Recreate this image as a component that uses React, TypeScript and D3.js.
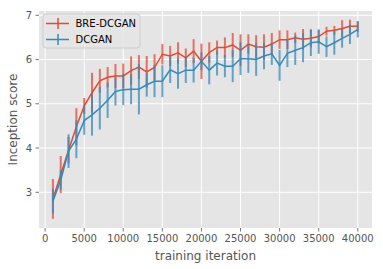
import * as d3 from "d3";

// training iteration (x), thousands
const iterations = d3.range(1, 41).map((k) => k * 1000);

const breMean = [2.85, 3.4, 3.95, 4.48, 4.95, 5.25, 5.52, 5.6, 5.63, 5.63,
  5.75, 5.83, 5.72, 5.82, 6.12, 6.08, 6.15, 6.04, 6.19, 5.96,
  6.16, 6.27, 6.27, 6.33, 6.21, 6.35, 6.29, 6.28, 6.35, 6.45,
  6.45, 6.49, 6.46, 6.48, 6.52, 6.64, 6.66, 6.7, 6.75, 6.75];
const breErr = [0.45, 0.42, 0.3, 0.42, 0.18, 0.45, 0.27, 0.23, 0.27, 0.28,
  0.32, 0.27, 0.36, 0.3, 0.23, 0.23, 0.24, 0.21, 0.27, 0.4,
  0.23, 0.16, 0.23, 0.27, 0.36, 0.22, 0.26, 0.29, 0.25, 0.21,
  0.21, 0.12, 0.23, 0.2, 0.16, 0.1, 0.1, 0.19, 0.15, 0.12];

const dcMean = [2.8, 3.28, 3.93, 4.2, 4.62, 4.75, 4.9, 5.08, 5.28, 5.32,
  5.33, 5.33, 5.43, 5.51, 5.51, 5.77, 5.68, 5.76, 5.76, 5.96,
  5.76, 5.92, 5.85, 5.85, 6.02, 6.02, 6.0, 6.08, 6.13, 5.87,
  6.14, 6.21, 6.27, 6.38, 6.4, 6.29, 6.38, 6.48, 6.57, 6.68];
const dcErr = [0.28, 0.22, 0.38, 0.43, 0.32, 0.47, 0.48, 0.4, 0.32, 0.35,
  0.34, 0.57, 0.27, 0.36, 0.36, 0.3, 0.34, 0.29, 0.28, 0.2,
  0.32, 0.28, 0.25, 0.36, 0.37, 0.32, 0.37, 0.3, 0.25, 0.35,
  0.31, 0.33, 0.33, 0.3, 0.27, 0.23, 0.27, 0.21, 0.22, 0.18];

const xTicks = [0, 5000, 10000, 15000, 20000, 25000, 30000, 35000, 40000];
const yTicks = [3, 4, 5, 6, 7];

const series = [
  { name: "BRE-DCGAN", mean: breMean, err: breErr, color: "#E24A33" },
  { name: "DCGAN", mean: dcMean, err: dcErr, color: "#348ABD" },
];

export default function App() {
  const width = 383;
  const height = 269;
  const left = 39;
  const right = 372;
  const top = 11;
  const bottom = 228;

  const x = d3.scaleLinear().domain([-780, 41820]).range([left, right]);
  const y = d3.scaleLinear().domain([2.193, 7.097]).range([bottom, top]);

  const line = d3.line<number>()
    .x((_, i) => x(iterations[i]))
    .y((d) => y(d));

  const font = "DejaVu Sans, sans-serif";

  return (
    <svg width={width} height={height} style={{ position: "absolute", left: 0, top: 0 }} fontFamily={font}>
      <rect x={0} y={0} width={width} height={height} fill="#fff" />
      <rect x={left} y={top} width={right - left} height={bottom - top} fill="#E5E5E5" />
      {/* grid */}
      {xTicks.map((t) => (
        <line key={"gx" + t} x1={x(t)} x2={x(t)} y1={top} y2={bottom} stroke="#fff" strokeWidth={1} />
      ))}
      {yTicks.map((t) => (
        <line key={"gy" + t} x1={left} x2={right} y1={y(t)} y2={y(t)} stroke="#fff" strokeWidth={1} />
      ))}

      {series.map((s) => (
        <g key={s.name}>
          <g stroke={s.color} strokeOpacity={0.75} strokeWidth={2}>
            {s.mean.map((m, i) => (
              <line key={i} x1={x(iterations[i])} x2={x(iterations[i])}
                y1={y(m - s.err[i])} y2={y(m + s.err[i])} />
            ))}
          </g>
          <path d={line(s.mean) ?? ""} fill="none" stroke={s.color} strokeWidth={1.5} />
        </g>
      ))}

      {/* ticks and tick labels */}
      {xTicks.map((t) => (
        <g key={"tx" + t}>
          <line x1={x(t)} x2={x(t)} y1={bottom} y2={bottom + 3.5} stroke="#555" strokeWidth={0.8} />
          <text x={x(t)} y={242} textAnchor="middle" fontSize={10} fill="#555">{t}</text>
        </g>
      ))}
      {yTicks.map((t) => (
        <g key={"ty" + t}>
          <line x1={left - 3.5} x2={left} y1={y(t)} y2={y(t)} stroke="#555" strokeWidth={0.8} />
          <text x={32} y={y(t) + 3.6} textAnchor="end" fontSize={10} fill="#555">{t}</text>
        </g>
      ))}

      <text x={(left + right) / 2} y={260} textAnchor="middle" fontSize={12} fill="#555">training iteration</text>
      <text transform={`translate(17,${(top + bottom) / 2}) rotate(-90)`} textAnchor="middle" fontSize={12} fill="#555">Inception score</text>

      {/* legend */}
      <rect x={43} y={14} width={97} height={34} rx={3} fill="#E5E5E5" fillOpacity={0.8} stroke="#ccc" strokeWidth={1} />
      {series.map((s, i) => {
        const cy = 23.5 + i * 16;
        return (
          <g key={"lg" + s.name}>
            <line x1={46} x2={69} y1={cy} y2={cy} stroke={s.color} strokeWidth={1.5} />
            <line x1={58} x2={58} y1={cy - 5.5} y2={cy + 5.5} stroke={s.color} strokeOpacity={0.75} strokeWidth={2} />
            <text x={75.5} y={cy + 3.6} fontSize={10} fill="#000">{s.name}</text>
          </g>
        );
      })}
    </svg>
  );
}
